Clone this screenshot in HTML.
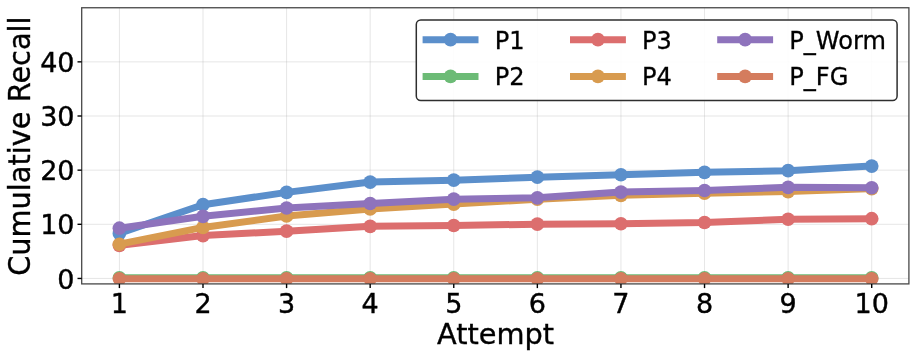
<!DOCTYPE html>
<html><head><meta charset="utf-8"><title>Cumulative Recall</title>
<style>html,body{margin:0;padding:0;background:#fff}body{width:917px;height:358px;overflow:hidden}</style></head>
<body>
<svg width="917" height="358" viewBox="0 0 917 358" style="display:block">
<rect width="917" height="358" fill="#fff"/>
<clipPath id="c"><rect x="81.7" y="7.75" width="827.1999999999999" height="276.15"/></clipPath>
<g stroke="#b0b0b0" stroke-opacity="0.32" stroke-width="1.0"><line x1="119.40" x2="119.40" y1="7.75" y2="283.9"/><line x1="202.99" x2="202.99" y1="7.75" y2="283.9"/><line x1="286.58" x2="286.58" y1="7.75" y2="283.9"/><line x1="370.17" x2="370.17" y1="7.75" y2="283.9"/><line x1="453.76" x2="453.76" y1="7.75" y2="283.9"/><line x1="537.35" x2="537.35" y1="7.75" y2="283.9"/><line x1="620.94" x2="620.94" y1="7.75" y2="283.9"/><line x1="704.53" x2="704.53" y1="7.75" y2="283.9"/><line x1="788.12" x2="788.12" y1="7.75" y2="283.9"/><line x1="871.71" x2="871.71" y1="7.75" y2="283.9"/><line x1="81.7" x2="908.9" y1="278.45" y2="278.45"/><line x1="81.7" x2="908.9" y1="224.30" y2="224.30"/><line x1="81.7" x2="908.9" y1="170.15" y2="170.15"/><line x1="81.7" x2="908.9" y1="116.00" y2="116.00"/><line x1="81.7" x2="908.9" y1="61.85" y2="61.85"/></g>
<g clip-path="url(#c)">
<polyline points="119.40,233.38 202.99,204.71 286.58,192.38 370.17,182.07 453.76,180.17 537.35,177.18 620.94,174.74 704.53,172.29 788.12,170.66 871.71,166.05" fill="none" stroke="#5b8fcb" stroke-width="7.0" stroke-linejoin="round" stroke-linecap="square"/>
<g fill="#5b8fcb"><circle cx="119.40" cy="233.38" r="6.85"/><circle cx="202.99" cy="204.71" r="6.85"/><circle cx="286.58" cy="192.38" r="6.85"/><circle cx="370.17" cy="182.07" r="6.85"/><circle cx="453.76" cy="180.17" r="6.85"/><circle cx="537.35" cy="177.18" r="6.85"/><circle cx="620.94" cy="174.74" r="6.85"/><circle cx="704.53" cy="172.29" r="6.85"/><circle cx="788.12" cy="170.66" r="6.85"/><circle cx="871.71" cy="166.05" r="6.85"/></g>
<polyline points="119.40,277.80 202.99,277.80 286.58,277.80 370.17,277.80 453.76,277.80 537.35,277.80 620.94,277.80 704.53,277.80 788.12,277.80 871.71,277.80" fill="none" stroke="#6cbb76" stroke-width="7.0" stroke-linejoin="round" stroke-linecap="square"/>
<g fill="#6cbb76"><circle cx="119.40" cy="277.80" r="6.85"/><circle cx="202.99" cy="277.80" r="6.85"/><circle cx="286.58" cy="277.80" r="6.85"/><circle cx="370.17" cy="277.80" r="6.85"/><circle cx="453.76" cy="277.80" r="6.85"/><circle cx="537.35" cy="277.80" r="6.85"/><circle cx="620.94" cy="277.80" r="6.85"/><circle cx="704.53" cy="277.80" r="6.85"/><circle cx="788.12" cy="277.80" r="6.85"/><circle cx="871.71" cy="277.80" r="6.85"/></g>
<polyline points="119.40,245.33 202.99,235.55 286.58,231.21 370.17,226.32 453.76,225.51 537.35,224.15 620.94,223.77 704.53,222.52 788.12,219.26 871.71,218.72" fill="none" stroke="#dc6e6e" stroke-width="7.0" stroke-linejoin="round" stroke-linecap="square"/>
<g fill="#dc6e6e"><circle cx="119.40" cy="245.33" r="6.85"/><circle cx="202.99" cy="235.55" r="6.85"/><circle cx="286.58" cy="231.21" r="6.85"/><circle cx="370.17" cy="226.32" r="6.85"/><circle cx="453.76" cy="225.51" r="6.85"/><circle cx="537.35" cy="224.15" r="6.85"/><circle cx="620.94" cy="223.77" r="6.85"/><circle cx="704.53" cy="222.52" r="6.85"/><circle cx="788.12" cy="219.26" r="6.85"/><circle cx="871.71" cy="218.72" r="6.85"/></g>
<polyline points="119.40,244.24 202.99,227.41 286.58,216.00 370.17,208.95 453.76,204.06 537.35,199.17 620.94,195.37 704.53,193.20 788.12,191.57 871.71,188.58" fill="none" stroke="#d89b4f" stroke-width="7.0" stroke-linejoin="round" stroke-linecap="square"/>
<g fill="#d89b4f"><circle cx="119.40" cy="244.24" r="6.85"/><circle cx="202.99" cy="227.41" r="6.85"/><circle cx="286.58" cy="216.00" r="6.85"/><circle cx="370.17" cy="208.95" r="6.85"/><circle cx="453.76" cy="204.06" r="6.85"/><circle cx="537.35" cy="199.17" r="6.85"/><circle cx="620.94" cy="195.37" r="6.85"/><circle cx="704.53" cy="193.20" r="6.85"/><circle cx="788.12" cy="191.57" r="6.85"/><circle cx="871.71" cy="188.58" r="6.85"/></g>
<polyline points="119.40,228.22 202.99,216.33 286.58,208.02 370.17,203.52 453.76,199.17 537.35,197.81 620.94,192.11 704.53,190.48 788.12,187.33 871.71,187.77" fill="none" stroke="#8e73bc" stroke-width="7.0" stroke-linejoin="round" stroke-linecap="square"/>
<g fill="#8e73bc"><circle cx="119.40" cy="228.22" r="6.85"/><circle cx="202.99" cy="216.33" r="6.85"/><circle cx="286.58" cy="208.02" r="6.85"/><circle cx="370.17" cy="203.52" r="6.85"/><circle cx="453.76" cy="199.17" r="6.85"/><circle cx="537.35" cy="197.81" r="6.85"/><circle cx="620.94" cy="192.11" r="6.85"/><circle cx="704.53" cy="190.48" r="6.85"/><circle cx="788.12" cy="187.33" r="6.85"/><circle cx="871.71" cy="187.77" r="6.85"/></g>
<polyline points="119.40,278.83 202.99,278.83 286.58,278.83 370.17,278.83 453.76,278.83 537.35,278.83 620.94,278.83 704.53,278.83 788.12,278.83 871.71,278.83" fill="none" stroke="#d47c5e" stroke-width="7.0" stroke-linejoin="round" stroke-linecap="square"/>
<g fill="#d47c5e"><circle cx="119.40" cy="278.83" r="6.85"/><circle cx="202.99" cy="278.83" r="6.85"/><circle cx="286.58" cy="278.83" r="6.85"/><circle cx="370.17" cy="278.83" r="6.85"/><circle cx="453.76" cy="278.83" r="6.85"/><circle cx="537.35" cy="278.83" r="6.85"/><circle cx="620.94" cy="278.83" r="6.85"/><circle cx="704.53" cy="278.83" r="6.85"/><circle cx="788.12" cy="278.83" r="6.85"/><circle cx="871.71" cy="278.83" r="6.85"/></g>
</g>
<rect x="81.7" y="7.75" width="827.1999999999999" height="276.15" fill="none" stroke="#484848" stroke-width="1.3"/>
<g stroke="#000" stroke-width="1.4"><line x1="119.40" x2="119.40" y1="283.9" y2="288.09999999999997"/><line x1="202.99" x2="202.99" y1="283.9" y2="288.09999999999997"/><line x1="286.58" x2="286.58" y1="283.9" y2="288.09999999999997"/><line x1="370.17" x2="370.17" y1="283.9" y2="288.09999999999997"/><line x1="453.76" x2="453.76" y1="283.9" y2="288.09999999999997"/><line x1="537.35" x2="537.35" y1="283.9" y2="288.09999999999997"/><line x1="620.94" x2="620.94" y1="283.9" y2="288.09999999999997"/><line x1="704.53" x2="704.53" y1="283.9" y2="288.09999999999997"/><line x1="788.12" x2="788.12" y1="283.9" y2="288.09999999999997"/><line x1="871.71" x2="871.71" y1="283.9" y2="288.09999999999997"/><line x1="77.5" x2="81.7" y1="278.45" y2="278.45"/><line x1="77.5" x2="81.7" y1="224.30" y2="224.30"/><line x1="77.5" x2="81.7" y1="170.15" y2="170.15"/><line x1="77.5" x2="81.7" y1="116.00" y2="116.00"/><line x1="77.5" x2="81.7" y1="61.85" y2="61.85"/></g>
<g font-family="DejaVu Sans, Liberation Sans, sans-serif" font-size="27" fill="#000" stroke="#000" stroke-width="0.4">
<text x="119.40" y="312.5" text-anchor="middle">1</text>
<text x="202.99" y="312.5" text-anchor="middle">2</text>
<text x="286.58" y="312.5" text-anchor="middle">3</text>
<text x="370.17" y="312.5" text-anchor="middle">4</text>
<text x="453.76" y="312.5" text-anchor="middle">5</text>
<text x="537.35" y="312.5" text-anchor="middle">6</text>
<text x="620.94" y="312.5" text-anchor="middle">7</text>
<text x="704.53" y="312.5" text-anchor="middle">8</text>
<text x="788.12" y="312.5" text-anchor="middle">9</text>
<text x="871.71" y="312.5" text-anchor="middle">10</text>
<text x="74.5" y="288.55" text-anchor="end">0</text>
<text x="74.5" y="234.40" text-anchor="end">10</text>
<text x="74.5" y="180.25" text-anchor="end">20</text>
<text x="74.5" y="126.10" text-anchor="end">30</text>
<text x="74.5" y="71.95" text-anchor="end">40</text>
</g>
<g font-family="DejaVu Sans, Liberation Sans, sans-serif" font-size="28.8" fill="#000" stroke="#000" stroke-width="0.35">
<text x="495.6" y="343.6" text-anchor="middle">Attempt</text>
<text transform="translate(30.2,146.1) rotate(-90) scale(1,1.05)" text-anchor="middle">Cumulative Recall</text>
</g>
<rect x="416.3" y="20.0" width="480.8" height="80.6" rx="4.5" ry="4.5" fill="#fff" fill-opacity="0.9" stroke="#2e2e2e" stroke-width="1.5"/>
<g font-family="DejaVu Sans, Liberation Sans, sans-serif" font-size="24.1" fill="#000" stroke="#000" stroke-width="0.3">
<line x1="422.6" x2="478.5" y1="39.7" y2="39.7" stroke="#5b8fcb" stroke-width="7.0"/>
<circle cx="450.55" cy="39.7" r="6.85" fill="#5b8fcb" stroke="none"/>
<text x="494.70" y="48.6">P1</text>
<line x1="422.6" x2="478.5" y1="76.4" y2="76.4" stroke="#6cbb76" stroke-width="7.0"/>
<circle cx="450.55" cy="76.4" r="6.85" fill="#6cbb76" stroke="none"/>
<text x="494.70" y="85.1">P2</text>
<line x1="570.0" x2="625.9" y1="39.7" y2="39.7" stroke="#dc6e6e" stroke-width="7.0"/>
<circle cx="597.95" cy="39.7" r="6.85" fill="#dc6e6e" stroke="none"/>
<text x="642.10" y="48.6">P3</text>
<line x1="570.0" x2="625.9" y1="76.4" y2="76.4" stroke="#d89b4f" stroke-width="7.0"/>
<circle cx="597.95" cy="76.4" r="6.85" fill="#d89b4f" stroke="none"/>
<text x="642.10" y="85.1">P4</text>
<line x1="717.2" x2="773.1" y1="39.7" y2="39.7" stroke="#8e73bc" stroke-width="7.0"/>
<circle cx="745.15" cy="39.7" r="6.85" fill="#8e73bc" stroke="none"/>
<text x="789.30" y="48.6">P_Worm</text>
<line x1="717.2" x2="773.1" y1="76.4" y2="76.4" stroke="#d47c5e" stroke-width="7.0"/>
<circle cx="745.15" cy="76.4" r="6.85" fill="#d47c5e" stroke="none"/>
<text x="789.30" y="85.1">P_FG</text>
</g>
</svg>
</body></html>
